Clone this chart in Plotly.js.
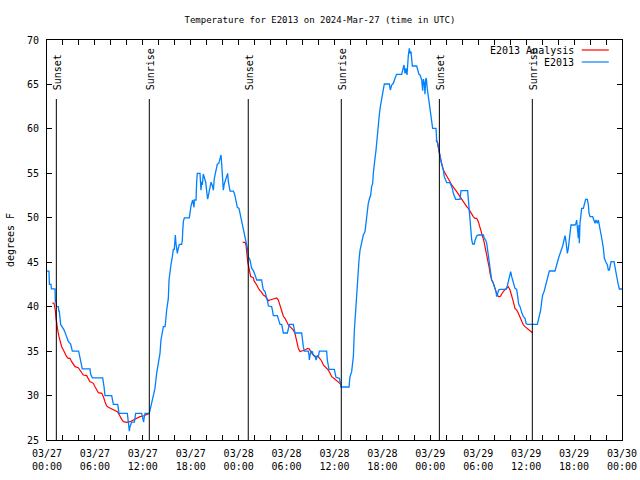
<!DOCTYPE html>
<html><head><meta charset="utf-8">
<script src="https://cdn.plot.ly/plotly-3.0.1.min.js"></script>
<style>html,body{margin:0;padding:0;background:#fff}#chart{width:640px;height:480px}</style>
</head><body><div id="chart"></div>
<script>
// Observed temperature (hours since 2024-03-27 00:00 UTC, degrees F)
const obsHours = [0,0.25,0.3,0.5,0.55,1.0,1.05,1.13,1.18,1.42,1.48,1.54,1.71,1.92,2.13,2.38,2.67,2.96,3.09,3.17,3.96,4.13,4.21,4.42,5.38,5.47,5.68,6.97,7.14,7.26,8.1,8.22,8.31,8.85,8.93,9.02,10.06,10.14,10.31,10.39,10.6,10.94,11.02,11.1,11.85,11.98,12.1,12.15,12.27,12.81,12.9,13.02,13.19,13.31,13.52,13.73,13.94,14.15,14.27,14.57,14.77,14.82,14.98,
15.19,15.28,15.4,15.52,15.69,15.82,15.94,16.0,16.07,16.15,16.32,16.44,16.57,16.86,16.95,16.99,17.07,17.2,17.82,17.9,18.03,18.24,18.41,18.45,18.66,18.74,18.82,19.16,19.28,19.37,19.45,19.57,19.7,19.87,20.0,20.12,20.25,20.41,20.54,20.71,20.83,20.95,21.12,21.33,21.5,21.66,21.79,21.87,21.95,22.08,22.2,22.37,22.5,22.62,22.71,22.83,22.92,23.33,23.46,23.58,23.71,23.83,24.04,24.17,24.38,24.58,24.79,25.0,25.13,
25.21,25.42,25.5,25.63,25.84,25.92,26.05,26.26,26.88,26.97,27.09,27.3,27.51,27.63,27.72,28.13,28.26,28.34,28.84,29.01,29.18,29.39,29.47,29.59,30.1,30.22,30.35,30.84,30.97,31.05,31.89,31.97,32.1,32.22,32.72,32.81,32.85,32.93,33.06,33.23,33.35,33.56,33.69,33.85,33.98,34.1,35.02,35.1,35.23,35.31,35.98,36.06,36.19,36.61,36.69,36.82,37.82,37.94,38.15,38.36,38.49,38.66,38.78,38.91,39.07,39.2,39.4,
39.49,39.61,39.82,39.94,40.11,40.23,40.36,40.53,40.65,40.78,40.86,40.99,41.07,41.2,41.32,41.4,41.49,41.61,41.74,41.91,42.12,42.24,42.87,42.99,43.16,43.37,43.58,43.78,44.41,44.54,44.7,44.83,44.95,45.08,45.16,45.25,45.37,45.45,45.58,45.66,45.75,46.29,46.41,46.58,
46.71,46.92,47.04,47.13,47.25,47.33,47.42,47.5,47.62,47.75,47.88,48.04,48.17,48.29,48.71,48.79,48.92,49.09,49.21,49.34,49.5,49.63,49.75,49.92,50.05,50.46,50.59,50.75,50.88,51.0,51.17,51.72,51.84,52.67,52.76,52.88,52.97,53.05,53.1,53.18,53.3,53.51,53.59,53.8,54.01,54.64,54.76,54.93,55.06,55.18,55.31,55.43,55.56,55.68,55.89,56.1,56.22,56.31,56.43,56.56,56.72,57.48,57.64,57.77,57.9,58.06,58.19,58.31,58.48,58.6,58.81,58.94,59.06,59.23,59.36,59.48,59.65,59.86,59.98,60.15,61.4,61.53,61.65,61.82,61.94,62.07,62.24,62.36,62.49,62.61,62.78,62.9,63.61,63.74,63.82,63.99,64.11,64.24,64.45,64.57,64.74,64.87,64.99,65.07,65.16,65.28,65.41,65.49,
65.61,66.11,66.24,66.32,66.45,66.53,66.61,66.66,66.74,66.86,66.95,67.16,67.24,67.37,67.45,67.66,67.79,67.87,68.0,68.33,68.41,68.62,68.75,68.91,69.04,69.17,69.25,69.37,69.5,69.67,69.79,69.96,70.17,70.29,70.42,70.5,70.63,71.0,71.12,71.25,71.42,71.54,71.67,72.0];
const obsTemp = [44,44,42.5,42.5,42,42,40.6,40.6,40,40,39.5,39.5,38,37.75,37.4,36.8,36.1,35.8,35.3,35,35,34.2,33.6,33,33,32.4,32,32,31,30,30,29.5,29,29,28.5,28,28,27.4,26,26.5,27,27,27.6,28,28,27.4,27,27.4,28,28,28.4,28.8,29.5,30,30.8,32.5,33.6,34.75,36.25,37.75,37.75,38,39.6,
40.9,43,44.2,44.7,45.6,46.45,46.45,47.5,48.06,47.1,46.0,46.56,47.0,47.0,47.5,48.44,49.56,50.0,50.0,50.5,51.33,52.0,51.18,52,52,54.06,55.0,55.0,53.1,54.06,53.7,54.93,54.44,54.0,52.94,52.1,52.7,53.5,54.0,53.6,53.1,54.44,55.4,56.05,56.1,56.5,57.06,56.1,54.25,53.1,53.8,54.25,54.6,55.0,54.06,53.1,53.0,53.0,52.75,52.3,51.7,51.18,51.06,50.5,49.75,48.8,48.06,47.3,46.4,
45.6,45.25,44.9,44.3,44.05,43.75,43.56,43.0,43.0,42.44,41.9,41.7,41.1,40.56,40.07,40.0,39.44,39.0,39.0,38.5,38.0,38.0,37.56,37.04,37.04,37.56,38.0,38.0,37.56,37.04,37.04,36.06,35.5,35.0,35.0,34.56,34.0,34.49,35.0,34.94,34.56,34.49,34.0,34.45,34.375,35.0,35.0,34.0,33.44,32.95,32.95,32.5,32.05,31.94,31.375,30.96,30.96,32.125,32.69,34.375,37.375,40.0,41.69,44.125,45.25,46.375,47.3,
47.575,48.06,48.44,49.56,50.5,51.625,52.08,52.56,53.5,53.875,55.0,55.75,56.69,57.625,59.125,60.06,60.625,61.56,62.5,63.44,64.375,65.05,65.05,64.375,64.94,65.125,65.69,66.14,66.14,66.625,67.19,66.25,66.81,66.06,67.75,68.31,69.06,68.5,68.69,67.75,67.075,67.075,66.625,66.14,
66.06,65.5,64.3,65.6,65.1,63.9,65.6,65.7,64.5,63.6,62.8,61.56,60.81,60.06,60.06,58.75,58.375,57.44,56.875,56.3,55.75,55.375,54.625,54.25,53.95,53.95,53.69,53.31,52.75,52.375,52.075,52.075,53.05,53.05,52.0,51.44,50.125,48.625,48.0,47.5,47.05,47.05,47.425,47.95,48.06,48.06,47.69,47.5,47.125,46.375,45.44,44.31,43.75,43.0,42.625,42.06,41.69,41.125,41.575,41.875,41.95,41.95,42.325,42.81,43.375,43.94,43.375,42.81,42.44,42.06,41.95,41.125,40.3,40.0,39.44,39.25,38.875,38.69,38.125,38.0,38.0,38.5,38.875,39.625,40.56,41.31,41.69,42.175,42.625,43.075,43.56,44.01,44.01,44.5,44.95,45.25,45.625,46.0,46.375,46.825,47.5,48.0,47.31,46.4,46.0,46.56,47.5,48.44,
49.19,49.19,49.375,49.75,48.25,47.69,49.19,47.125,49.375,50.31,51.06,51.06,51.44,51.7,52.075,52.075,51.44,50.5,50.125,50.125,49.825,49.375,49.75,49.375,49.75,49.19,48.7,48.25,47.5,46.56,45.44,45.06,44.69,44.125,44.125,44.5,45.06,45.06,44.31,43.75,43.0,42.44,41.99,41.99];

// Analysis temperature (night-time only; null separates nights)
const anaHours = [0.67,0.88,0.92,1.04,1.13,1.21,1.34,1.5,1.63,1.84,2.05,2.25,2.46,2.67,2.88,3.09,3.3,3.51,3.92,4.13,4.34,4.55,4.97,5.18,5.38,5.59,5.8,6.01,6.22,6.43,6.85,7.06,7.26,7.47,7.68,8.1,8.51,8.81,9.02,9.14,9.35,9.56,9.98,10.39,10.81,11.23,11.65,12.06,12.48,12.81,null,
24.5,24.79,24.92,25.0,25.13,25.3,25.42,25.5,25.84,25.92,26.26,26.59,26.88,27.09,27.3,27.51,27.72,27.92,28.34,28.76,28.97,29.18,29.39,29.59,29.8,30.01,30.22,30.43,30.84,31.05,31.26,31.47,31.68,31.89,32.31,32.64,32.85,33.02,33.23,33.44,33.69,33.85,33.98,34.18,34.39,34.6,34.81,35.02,35.23,35.44,35.65,36.06,36.48,36.82,null,
48.71,48.92,49.0,49.21,49.42,49.63,49.84,50.05,50.25,50.46,50.67,50.88,51.09,51.3,51.51,51.72,51.93,52.13,52.34,52.55,52.76,52.97,53.18,53.38,53.59,53.8,54.01,54.22,54.35,54.43,54.55,54.72,54.85,54.97,55.06,55.18,55.27,55.39,55.48,55.56,55.68,55.81,55.98,56.1,56.22,56.39,56.52,56.64,56.81,56.93,57.14,57.35,57.56,57.77,57.98,58.19,58.39,58.6,58.81,59.02,59.23,59.44,59.65,59.86,60.07,60.28,60.48,60.78];
const anaTemp = [40.4,40.4,40.19,39.6,38.69,37.94,37.375,36.625,36.06,35.5,35.125,34.75,34.375,34.19,34.19,33.81,33.51,33.25,33.14,32.875,32.58,32.31,32.24,31.94,31.56,31.49,31.375,31.0,30.625,30.32,30.25,29.875,29.31,28.825,28.68,28.49,28.3,28.19,27.89,27.625,27.325,27.06,26.99,27.06,27.25,27.44,27.625,27.7,27.89,28.0,null,
47.24,47.24,46.94,46.19,45.06,44.31,43.56,43.375,43.26,42.925,42.44,41.875,41.61,41.31,41.2,40.86,40.675,40.75,40.825,40.975,40.75,40.19,39.44,38.95,38.69,38.31,37.94,37.75,37.375,37.0,36.25,35.31,34.94,35.0,35.125,35.31,35.24,34.94,34.68,34.45,34.3,34.45,34.375,34.19,33.89,33.44,33.25,33.175,32.875,32.5,32.125,31.825,31.56,31.26,null,
58.75,58.375,57.925,56.875,56.125,55.375,55.0,54.625,54.25,54.06,53.69,53.5,53.2,52.94,52.64,52.375,52.0,51.7,51.44,51.25,51.06,50.69,50.31,50.125,49.94,49.94,49.56,49.0,48.625,48.25,47.875,47.31,46.75,46.375,45.81,45.25,44.875,44.31,43.75,43.375,43.0,42.81,42.44,42.06,41.69,41.425,41.125,41.125,41.2,41.425,41.69,41.95,42.06,42.25,41.875,41.31,40.56,39.81,39.625,39.25,38.8,38.425,37.94,37.75,37.56,37.45,37.3,37.075];

const sunHours = [1.17, 12.81, 25.2, 36.85, 49.13, 60.77];
const sunLabels = ['Sunset','Sunrise','Sunset','Sunrise','Sunset','Sunrise'];
const tickHours = [0,6,12,18,24,30,36,42,48,54,60,66,72];
const tickLabels = ['03/27<br>00:00','03/27<br>06:00','03/27<br>12:00','03/27<br>18:00','03/28<br>00:00','03/28<br>06:00','03/28<br>12:00','03/28<br>18:00','03/29<br>00:00','03/29<br>06:00','03/29<br>12:00','03/29<br>18:00','03/30<br>00:00'];
const seriesNames = ['E2013 Analysis','E2013'];
const seriesColors = ['#ff0000','#0080ff'];

const FONT = 'DejaVu Sans Mono';
const traces = [
  {x: anaHours, y: anaTemp, name: seriesNames[0], type: 'scatter', mode: 'lines', connectgaps: false,
   line: {color: seriesColors[0], width: 1.2}},
  {x: obsHours, y: obsTemp, name: seriesNames[1], type: 'scatter', mode: 'lines',
   line: {color: seriesColors[1], width: 1.3}}
];

const shapes = sunHours.map(h => ({type: 'line', xref: 'x', yref: 'paper', x0: h, x1: h, y0: 0, y1: 0.8525,
  line: {color: 'black', width: 1}}));
const annotations = sunHours.map((h, i) => ({xref: 'x', yref: 'paper', x: h, y: 0.87, text: sunLabels[i],
  textangle: -90, showarrow: false, xanchor: 'center', yanchor: 'bottom', xshift: 1,
  font: {family: FONT, size: 10, color: 'black'}}));
seriesNames.forEach((name, i) => {
  const yy = 0.975 - i * 0.03;
  annotations.push({xref: 'paper', yref: 'paper', x: 0.9165, y: yy, text: name, showarrow: false,
    xanchor: 'right', yanchor: 'middle', xshift: 2, font: {family: FONT, size: 10, color: 'black'}});
  shapes.push({type: 'line', xref: 'paper', yref: 'paper', x0: 0.930, x1: 0.977, y0: yy, y1: yy,
    line: {color: seriesColors[i], width: 1.2}});
});

const layout = {
  width: 640, height: 480,
  margin: {l: 47, r: 18, t: 40, b: 40},
  paper_bgcolor: '#ffffff', plot_bgcolor: '#ffffff',
  showlegend: false,
  font: {family: FONT, size: 10, color: 'black'},
  title: {text: 'Temperature for E2013 on 2024-Mar-27 (time in UTC)', font: {family: FONT, size: 9, color: 'black'},
    x: 0.5, xref: 'container', xanchor: 'center', y: 0.958, yref: 'container', yanchor: 'middle'},
  xaxis: {range: [0, 72], tickmode: 'array', tickvals: tickHours, ticktext: tickLabels,
    ticks: 'inside', ticklen: 5, tickwidth: 1, tickcolor: 'black', ticklabelstandoff: 4,
    showline: true, linecolor: 'black', linewidth: 1, mirror: 'ticks',
    showgrid: false, zeroline: false, tickfont: {family: FONT, size: 10, color: 'black'},
    minor: {tickmode: 'linear', tick0: 0, dtick: 2, ticks: 'inside', ticklen: 5, tickcolor: 'black', showgrid: false}},
  yaxis: {range: [25, 70], tickmode: 'linear', tick0: 25, dtick: 5,
    ticks: 'inside', ticklen: 5, tickwidth: 1, tickcolor: 'black', ticklabelstandoff: 5,
    showline: true, linecolor: 'black', linewidth: 1, mirror: 'ticks',
    showgrid: false, zeroline: false, tickfont: {family: FONT, size: 10, color: 'black'},
    title: {text: 'degrees F', font: {family: FONT, size: 10, color: 'black'}, standoff: 10}},
  shapes: shapes,
  annotations: annotations
};

Plotly.newPlot('chart', traces, layout, {staticPlot: true, displayModeBar: false});
</script>
</body></html>
